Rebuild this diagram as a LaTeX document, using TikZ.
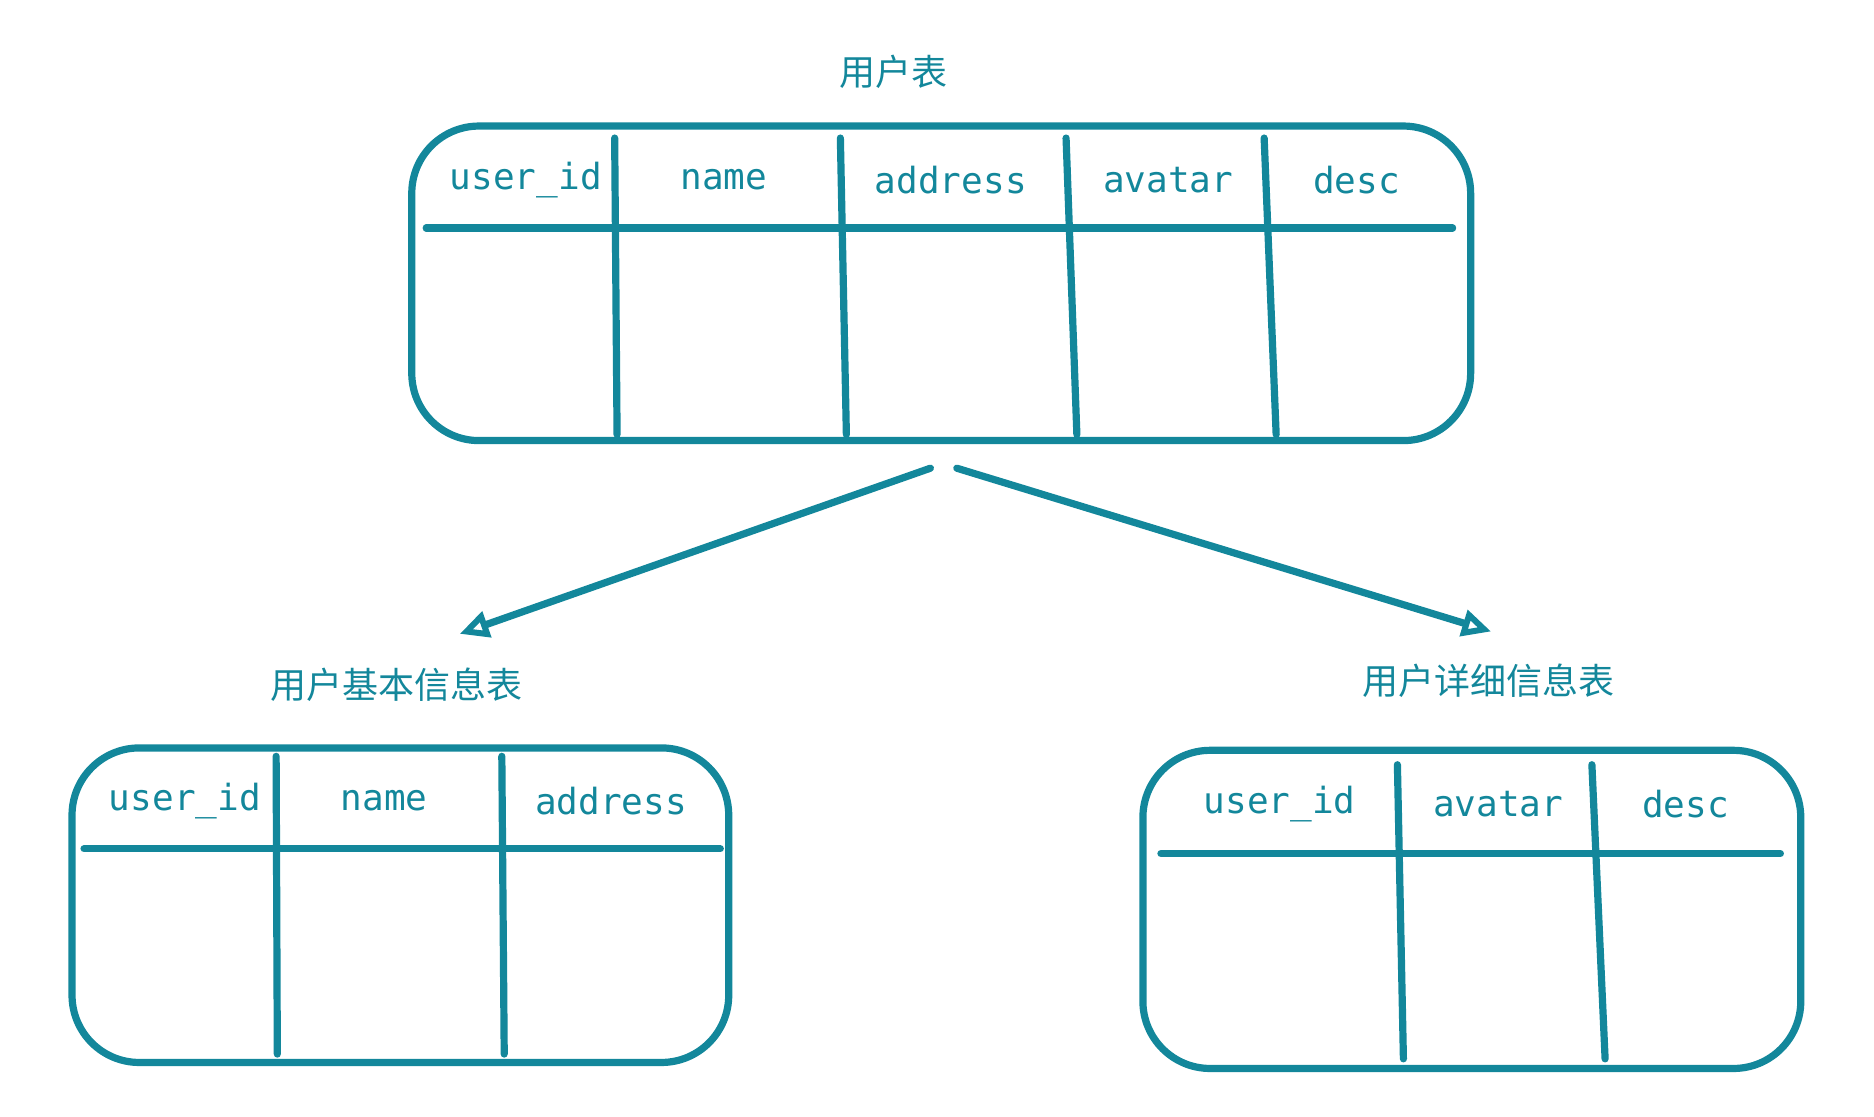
\documentclass[tikz,border=0pt]{standalone}
\usepackage{fontspec}
\setmonofont{DejaVu Sans Mono}
\newfontfamily\cjk{Noto Sans CJK SC}
\usetikzlibrary{arrows.meta}
\definecolor{tl}{HTML}{13879B}
\begin{document}
\begin{tikzpicture}[x=0.5pt,y=-0.5pt,
  ln/.style={draw=tl,line width=3pt,line cap=round},
  box/.style={ln,rounded corners=28pt},
  hd/.style={text=tl,font=\ttfamily\fontsize{15}{15}\selectfont},
  ttl/.style={text=tl,font=\cjk\fontsize{15}{15}\selectfont},
  arr/.style={ln,-{Triangle[open,length=12pt,width=11pt,line width=2.5pt]}}]
\useasboundingbox (0,0) rectangle (1561,930);
% top table
\draw[box] (343,105) rectangle (1225,367);
\draw[ln] (355,190) -- (1210,190);
\foreach \a/\b in {512/514,700/705,888/897,1053/1063}
  \draw[ln] (\a,115) -- (\b,362);
\foreach \x/\t in {438/user\_id,603/name,792/address,973/avatar,1130/desc}
  \node[hd] at (\x,150) {\t};
\node[ttl] (t0) at (744,60) {用户表};
% arrows
\coordinate (s1) at (775,390); \coordinate (e1) at (383,528);
\coordinate (s2) at (797,390); \coordinate (e2) at (1242,526);
\draw[arr] (s1) -- (e1);
\draw[arr] (s2) -- (e2);
% left table
\draw[box] (60,623) rectangle (607,885);
\draw[ln] (70,707) -- (600,707);
\foreach \a/\b in {230/231,418/420}
  \draw[ln] (\a,630) -- (\b,878);
\foreach \x/\t in {154/user\_id,320/name,509/address}
  \node[hd] at (\x,667) {\t};
\node[ttl] (t1) at (330,570) {用户基本信息表};
% right table
\draw[box] (952,625) rectangle (1500,890);
\draw[ln] (967,711) -- (1483,711);
\foreach \a/\b in {1164/1169,1326/1337}
  \draw[ln] (\a,637) -- (\b,882);
\foreach \x/\t in {1066/user\_id,1248/avatar,1404/desc}
  \node[hd] at (\x,670) {\t};
\node[ttl] (t2) at (1240,567) {用户详细信息表};
\end{tikzpicture}
\end{document}
